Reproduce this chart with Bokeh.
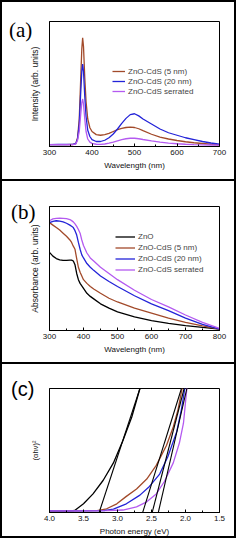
from bokeh.plotting import figure
from bokeh.layouts import column
from bokeh.models import (Range1d, FixedTicker, SingleIntervalTicker, Legend, LegendItem,
                          PrintfTickFormatter, Div)
from bokeh.embed import file_html
from bokeh.resources import INLINE

# ---------------- data: (a) photoluminescence ----------------
pl_wavelength = [300, 320, 340, 355, 362, 366, 370, 373, 376, 378, 380, 383, 386, 390, 395, 400,
                 410, 420, 430, 440, 450, 460, 470, 480, 490, 500, 510, 520, 540, 560, 580, 600,
                 620, 640, 660, 680, 700]
pl_cds5 = [0.015, 0.015, 0.015, 0.016, 0.025, 0.07, 0.22, 0.50, 0.78, 0.87, 0.80, 0.55, 0.36, 0.22,
           0.15, 0.12, 0.095, 0.09, 0.095, 0.105, 0.12, 0.135, 0.145, 0.152, 0.155, 0.152, 0.142,
           0.127, 0.098, 0.075, 0.06, 0.048, 0.038, 0.03, 0.024, 0.018, 0.014]
pl_cds20 = [0.015, 0.017, 0.016, 0.017, 0.025, 0.06, 0.18, 0.40, 0.60, 0.66, 0.60, 0.40, 0.24, 0.13,
            0.08, 0.055, 0.04, 0.04, 0.05, 0.07, 0.10, 0.14, 0.185, 0.225, 0.255, 0.262, 0.245,
            0.22, 0.18, 0.14, 0.11, 0.09, 0.07, 0.055, 0.04, 0.028, 0.018]
pl_serrated = [0.015, 0.015, 0.015, 0.015, 0.02, 0.05, 0.12, 0.24, 0.35, 0.38, 0.34, 0.22, 0.12, 0.06,
               0.035, 0.025, 0.018, 0.017, 0.02, 0.027, 0.035, 0.045, 0.055, 0.062, 0.066, 0.066,
               0.062, 0.056, 0.045, 0.035, 0.027, 0.022, 0.018, 0.015, 0.013, 0.012, 0.011]

# ---------------- data: (b) absorbance ----------------
ab_wavelength = [300, 310, 320, 330, 340, 350, 360, 365, 370, 375, 380, 385, 390, 395, 400, 410, 420,
                 430, 450, 475, 500, 550, 600, 650, 700, 750, 800]
ab_zno = [0.63, 0.60, 0.58, 0.57, 0.565, 0.565, 0.568, 0.568, 0.56, 0.53, 0.46, 0.41, 0.38, 0.36, 0.34,
          0.30, 0.275, 0.255, 0.215, 0.18, 0.15, 0.11, 0.08, 0.058, 0.04, 0.025, 0.012]
ab_cds5 = [0.87, 0.85, 0.83, 0.81, 0.785, 0.76, 0.73, 0.71, 0.68, 0.655, 0.58, 0.51, 0.47, 0.44, 0.41,
           0.38, 0.355, 0.335, 0.30, 0.26, 0.23, 0.18, 0.14, 0.10, 0.066, 0.037, 0.012]
ab_cds20 = [0.87, 0.88, 0.885, 0.882, 0.876, 0.865, 0.85, 0.84, 0.83, 0.805, 0.77, 0.71, 0.655, 0.61,
            0.585, 0.54, 0.51, 0.485, 0.44, 0.395, 0.355, 0.28, 0.215, 0.16, 0.10, 0.05, 0.012]
ab_serrated = [0.885, 0.90, 0.905, 0.906, 0.905, 0.902, 0.895, 0.886, 0.876, 0.86, 0.84, 0.815, 0.785,
               0.73, 0.685, 0.625, 0.585, 0.56, 0.51, 0.46, 0.41, 0.325, 0.25, 0.19, 0.125, 0.066, 0.017]

# ---------------- data: (c) Tauc plot ----------------
tc_zno_e = [4.0, 3.8, 3.65, 3.62, 3.50, 3.36, 3.21, 3.06, 2.92, 2.79, 2.67, 2.62]
tc_zno = [0.013, 0.013, 0.015, 0.02, 0.07, 0.15, 0.26, 0.40, 0.58, 0.77, 1.0, 1.1]
tc_cds5_e = [4.0, 3.6, 3.3, 3.16, 3.01, 2.87, 2.72, 2.57, 2.43, 2.28, 2.18, 2.11, 2.05, 2.02]
tc_cds5 = [0.013, 0.013, 0.015, 0.03, 0.07, 0.13, 0.19, 0.27, 0.38, 0.54, 0.69, 0.83, 1.0, 1.1]
tc_cds20_e = [4.0, 3.6, 3.2, 3.06, 2.87, 2.67, 2.53, 2.38, 2.26, 2.13, 2.06, 2.01, 1.98]
tc_cds20 = [0.013, 0.013, 0.015, 0.027, 0.07, 0.14, 0.21, 0.31, 0.45, 0.65, 0.83, 1.0, 1.1]
tc_serr_e = [4.0, 3.6, 3.15, 2.92, 2.72, 2.57, 2.43, 2.31, 2.18, 2.09, 2.03, 1.98, 1.95]
tc_serr = [0.013, 0.013, 0.015, 0.02, 0.045, 0.086, 0.15, 0.25, 0.40, 0.56, 0.72, 1.0, 1.1]
# tangent (extrapolation) lines: x-intercept and energy at top of the frame
tan_e0 = [3.27, 2.63, 2.49, 2.40]
tan_e1 = [2.67, 2.06, 2.02, 1.98]

C_BROWN = "#A24A2A"
C_BLUE = "#2323D8"
C_VIOLET = "#B45AF0"
FONT = "Liberation Sans"
W = 236
BORDER = "2px solid black"


def style(p, xticker, xlabel, ylabel, ylabel_size="8.5px"):
    p.toolbar_location = None
    p.outline_line_color = "black"
    p.outline_line_width = 1
    p.background_fill_color = "white"
    p.border_fill_color = "white"
    p.xgrid.visible = False
    p.ygrid.visible = False
    xa = p.xaxis[0]
    xa.ticker = xticker
    xa.axis_label = xlabel
    xa.axis_label_text_font = FONT
    xa.axis_label_text_font_size = "8px"
    xa.axis_label_text_font_style = "normal"
    xa.axis_label_text_color = "#111111"
    xa.axis_label_standoff = 3
    xa.major_label_text_font = FONT
    xa.major_label_text_font_size = "8px"
    xa.major_label_text_color = "#111111"
    xa.major_label_standoff = 3
    xa.major_tick_in = 3
    xa.major_tick_out = 0
    xa.minor_tick_in = 2
    xa.minor_tick_out = 0
    xa.axis_line_color = "black"
    ya = p.yaxis[0]
    ya.ticker = FixedTicker(ticks=[])
    ya.axis_label = ylabel
    ya.axis_label_text_font = FONT
    ya.axis_label_text_font_size = ylabel_size
    ya.axis_label_text_font_style = "normal"
    ya.axis_label_text_color = "#111111"
    ya.axis_label_standoff = 10
    ya.major_label_standoff = 0
    ya.major_tick_out = 0
    ya.major_tick_in = 0
    ya.minor_tick_out = 0
    ya.minor_tick_in = 0
    ya.axis_line_color = "black"


def letter(text, left, top, family, size):
    return Div(text=text, styles={"position": "absolute", "left": f"{left}px", "top": f"{top}px",
                                  "z-index": "10", "font-family": family, "font-size": size,
                                  "color": "black", "line-height": "1"})


# ---------------- (a) ----------------
ha = 179
pa = figure(width=W, height=ha, output_backend="svg", toolbar_location=None,
            x_range=Range1d(300, 700), y_range=Range1d(0, 1.0),
            min_border_left=45, min_border_right=19, min_border_top=19, min_border_bottom=35,
            styles={"border-left": BORDER, "border-right": BORDER, "border-top": BORDER})
style(pa, SingleIntervalTicker(interval=100, num_minor_ticks=2), "Wavelength (nm)",
      "Intensity (arb. units)")
ra1 = pa.line(pl_wavelength, pl_cds5, line_color=C_BROWN, line_width=1.3)
ra2 = pa.line(pl_wavelength, pl_cds20, line_color=C_BLUE, line_width=1.3)
ra3 = pa.line(pl_wavelength, pl_serrated, line_color=C_VIOLET, line_width=1.3)
lega = Legend(items=[LegendItem(label="ZnO-CdS (5 nm)", renderers=[ra1]),
                     LegendItem(label="ZnO-CdS (20 nm)", renderers=[ra2]),
                     LegendItem(label="ZnO-CdS serrated", renderers=[ra3])],
              location=(63, 50), label_text_font=FONT, label_text_font_size="8px",
              label_height=10, glyph_height=10, glyph_width=13, spacing=0, padding=0, margin=0,
              label_standoff=3, border_line_color=None, background_fill_alpha=0)
pa.add_layout(lega, "center")

# ---------------- (b) ----------------
hb = 183
pb = figure(width=W, height=hb, output_backend="svg", toolbar_location=None,
            x_range=Range1d(300, 800), y_range=Range1d(0, 1.0),
            min_border_left=45, min_border_right=19, min_border_top=25, min_border_bottom=34,
            styles={"border-left": BORDER, "border-right": BORDER, "border-top": BORDER})
style(pb, SingleIntervalTicker(interval=100, num_minor_ticks=2), "Wavelength (nm)",
      "Absorbance (arb. units)")
rb0 = pb.line(ab_wavelength, ab_zno, line_color="black", line_width=1.3)
rb1 = pb.line(ab_wavelength, ab_cds5, line_color=C_BROWN, line_width=1.3)
rb2 = pb.line(ab_wavelength, ab_cds20, line_color=C_BLUE, line_width=1.3)
rb3 = pb.line(ab_wavelength, ab_serrated, line_color=C_VIOLET, line_width=1.3)
legb = Legend(items=[LegendItem(label="ZnO", renderers=[rb0]),
                     LegendItem(label="ZnO-CdS (5 nm)", renderers=[rb1]),
                     LegendItem(label="ZnO-CdS (20 nm)", renderers=[rb2]),
                     LegendItem(label="ZnO-CdS serrated", renderers=[rb3])],
              location=(66, 55), label_text_font=FONT, label_text_font_size="8px",
              label_height=11, glyph_height=11, glyph_width=20, spacing=0, padding=0, margin=0,
              label_standoff=3, border_line_color=None, background_fill_alpha=0)
pb.add_layout(legb, "center")

# ---------------- (c) ----------------
hc = 176
pc = figure(width=W, height=hc, output_backend="svg", toolbar_location=None,
            x_range=Range1d(4.0, 1.5), y_range=Range1d(0, 1.0),
            min_border_left=47, min_border_right=18, min_border_top=24, min_border_bottom=28,
            styles={"border": BORDER})
style(pc, SingleIntervalTicker(interval=0.5, num_minor_ticks=2), "Photon energy (eV)",
      "(\u03b1h\u03bd)\u00b2", "7.5px")
pc.xaxis[0].formatter = PrintfTickFormatter(format="%.1f")
pc.line(tc_zno_e, tc_zno, line_color="black", line_width=1.3)
pc.line(tc_cds5_e, tc_cds5, line_color=C_BROWN, line_width=1.3)
pc.line(tc_cds20_e, tc_cds20, line_color=C_BLUE, line_width=1.3)
pc.line(tc_serr_e, tc_serr, line_color=C_VIOLET, line_width=1.3)
for e0, e1 in zip(tan_e0, tan_e1):
    pc.line([e0, e1], [0, 1.0], line_color="black", line_width=1.1)

la = letter("(a)", 4, 15, "Liberation Serif", "21px")
lb = letter("(b)", 6, 197, "Liberation Serif", "21px")
lc = letter("(c)", 6, 374, "Liberation Sans", "20px")

layout = column(pa, pb, pc, la, lb, lc, spacing=0, styles={"position": "relative"})
open("out.html", "w").write(file_html(layout, INLINE))
